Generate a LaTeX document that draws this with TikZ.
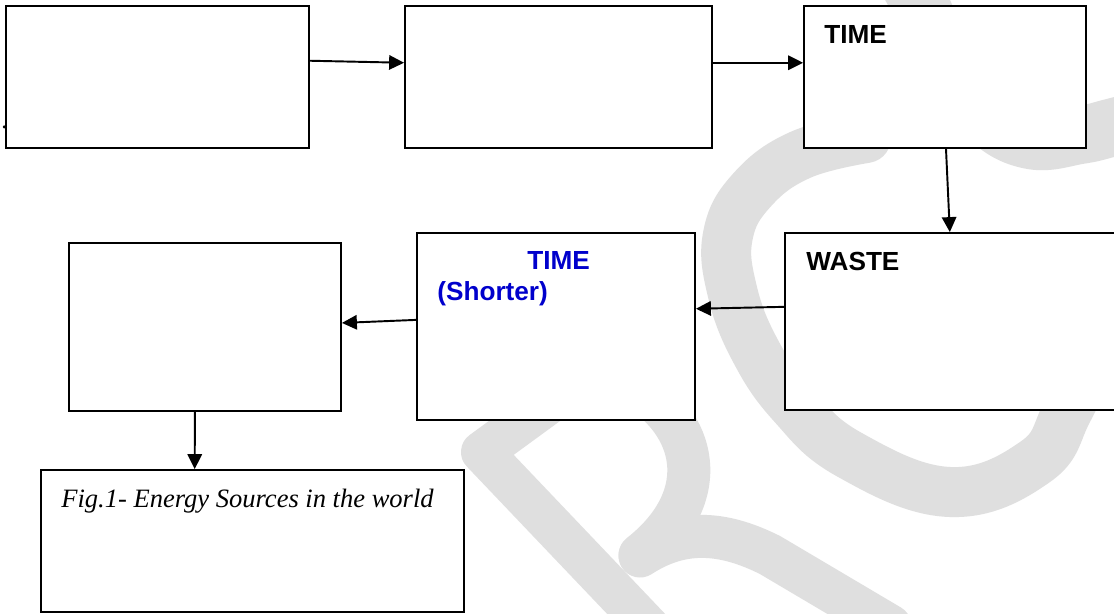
\documentclass[tikz,border=0pt]{standalone}
\usepackage{fontspec}
\setmainfont{Liberation Serif}
\newfontfamily\arialfont{Liberation Sans}
\usetikzlibrary{arrows.meta,calc}
\definecolor{wmgray}{HTML}{DFDFDF}
\definecolor{tblue}{HTML}{0000CC}
\begin{document}
\begin{tikzpicture}[x=0.02cm,y=-0.02cm,
  box/.style={draw=black, fill=white, line width=1.1pt, rectangle, inner sep=0pt},
  arr/.style={line width=1.1pt, -{Triangle[length=8.5pt,width=8.2pt]}},
  wmark/.style={draw=wmgray, line width=#1, line cap=round, line join=round},
  head/.style={font=\arialfont\bfseries\fontsize{14.9}{17}\selectfont, anchor=base west, inner sep=0pt},
  caption/.style={font=\itshape\fontsize{15.1}{17}\selectfont, anchor=base west, inner sep=0pt},
  ]
\useasboundingbox (0,0) rectangle (1114,613);
\clip (0,0) rectangle (1114,613);
\fill[white] (0,0) rectangle (1114,613);

% background watermark letters
\draw[wmark=0.84cm] (560,395) -- (482,452) -- (680,660);
\draw[wmark=0.86cm] (640,390) .. controls (700,430) and (710,500) .. (640,555);
\draw[wmark=0.86cm] (640,556) .. controls (680,530) and (720,530) .. (770,555) -- (890,626);
\draw[wmark=1.0cm] plot[smooth, tension=0.7] coordinates {(866,138) (800,155) (752,190) (728,235) (732,290) (755,350) (793,405) (850,455) (950,492) (1035,462) (1068,410) (1100,340) (1135,270) (1175,200)};
\draw[wmark=1.16cm] plot[smooth, tension=0.7] coordinates {(895,-40) (918,0) (948,65) (985,115) (1030,140) (1080,135) (1114,127) (1160,115)};

% boxes
\node[box, minimum width=6.06cm, minimum height=2.84cm] (b1) at (157.5,77) {};
\node[box, minimum width=6.14cm, minimum height=2.84cm] (b2) at (558.5,77) {};
\node[box, minimum width=5.64cm, minimum height=2.84cm] (b3) at (945,77) {};
\node[box, minimum width=6.66cm, minimum height=3.54cm] (b4) at (951.5,321.5) {};
\node[box, minimum width=5.56cm, minimum height=3.74cm] (b5) at (556,326.5) {};
\node[box, minimum width=5.44cm, minimum height=3.36cm] (b6) at (205,327) {};
\node[box, minimum width=8.46cm, minimum height=2.84cm] (b7) at (252.5,541) {};

% texts
\node[font=\fontsize{14}{16}\selectfont, anchor=base west, inner sep=0pt] (dot) at (1,128) {.};
\node[head] (t3) at (824,43) {TIME};
\node[head] (t4) at (806,270) {WASTE};
\node[head, text=tblue] (t5a) at (527,269) {TIME};
\node[head, text=tblue] (t5b) at (437,300) {(Shorter)};
\node[caption] (cap) at (61,507) {Fig.1- Energy Sources in the world};

% connectors
\draw[arr] ($(b1.north east)!0.387!(b1.south east)$) -- ($(b2.north west)!0.401!(b2.south west)$);
\draw[arr] ($(b2.north east)!0.401!(b2.south east)$) -- ($(b3.north west)!0.401!(b3.south west)$);
\draw[arr] ($(b3.south west)!0.5035!(b3.south east)$) -- ($(b4.north west)!0.495!(b4.north east)$);
\draw[arr] ($(b4.north west)!0.418!(b4.south west)$) -- ($(b5.north east)!0.406!(b5.south east)$);
\draw[arr] ($(b5.north west)!0.465!(b5.south west)$) -- ($(b6.north east)!0.476!(b6.south east)$);
\draw[arr] ($(b6.south west)!0.463!(b6.south east)$) -- ($(b7.north west)!0.364!(b7.north east)$);
\end{tikzpicture}
\end{document}
